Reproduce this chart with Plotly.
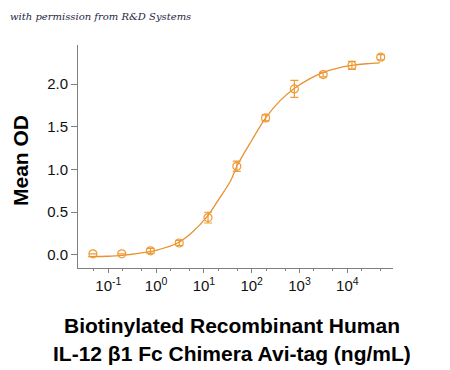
import plotly.graph_objects as go

# Measured points (ng/mL, Mean OD, SD)
conc = [0.0477, 0.191, 0.763, 3.05, 12.2, 48.8, 195, 781, 3125, 12500, 50000]
od = [0.01, 0.01, 0.045, 0.137, 0.435, 1.037, 1.605, 1.945, 2.113, 2.22, 2.317]
sd = [0.0, 0.0, 0.03, 0.03, 0.063, 0.06, 0.035, 0.1, 0.027, 0.047, 0.03]

# Fitted curve (log10 conc, OD)
fit_log = [-1.42, -1.0, -0.76, -0.13, 0.0, 0.46, 0.75, 1.07, 1.3, 1.57, 1.69,
           2.0, 2.3, 2.6, 2.89, 3.2, 3.5, 3.8, 4.09, 4.4, 4.68]
fit_od = [-0.022, -0.018, -0.012, 0.035, 0.05, 0.14, 0.26, 0.45, 0.64, 0.88, 1.04,
          1.34, 1.61, 1.81, 1.95, 2.06, 2.14, 2.19, 2.22, 2.24, 2.25]
fit_conc = [10 ** v for v in fit_log]

tick_vals = [0.1, 1, 10, 100, 1000, 10000]
tick_text = ["10<sup>-1</sup>", "10<sup>0</sup>", "10<sup>1</sup>",
             "10<sup>2</sup>", "10<sup>3</sup>", "10<sup>4</sup>"]
y_ticks = [0.0, 0.5, 1.0, 1.5, 2.0]

line_color = "#E8922E"
mark_color = "#F09A35"
axis_color = "#7f7f7f"
font_fam = "Liberation Sans, Arial, sans-serif"

# page body adds an 8px offset; figure is sized/positioned to compensate
OFF = 8
W, H = 450 - OFF, 370 - OFF
ML, MR, MT, MB = 78 - OFF, 57, 45 - OFF, 102

fig = go.Figure()
fig.add_trace(go.Scatter(
    x=fit_conc, y=fit_od, mode="lines", line=dict(color=line_color, width=1.3, shape="spline"),
    hoverinfo="skip", showlegend=False))
fig.add_trace(go.Scatter(
    x=conc, y=od, mode="markers",
    marker=dict(symbol="circle-open", size=8, color=mark_color, line=dict(width=1.2)),
    error_y=dict(type="data", array=sd, visible=True, color=mark_color, thickness=1.2, width=4),
    showlegend=False))

pw, ph = W - ML - MR, H - MT - MB


def px(x):
    return (x - OFF - ML) / pw


def py(y):
    return (H - MB - (y - OFF)) / ph


fig.update_layout(
    width=W, height=H,
    margin=dict(l=ML, r=MR, t=MT, b=MB),
    paper_bgcolor="white", plot_bgcolor="white",
    font=dict(family=font_fam, color="#000000"),
    xaxis=dict(
        type="log", range=[-1.634, 4.956],
        tickvals=tick_vals, ticktext=tick_text,
        tickfont=dict(size=15, family=font_fam, color="#111"),
        showline=True, linecolor=axis_color, linewidth=1,
        ticks="outside", ticklen=4, tickcolor=axis_color,
        minor=dict(ticks="outside", ticklen=2, tickcolor=axis_color, showgrid=False),
        showgrid=False, zeroline=False,
    ),
    yaxis=dict(
        range=[-0.156, 2.46],
        tickvals=y_ticks, ticktext=["0.0", "0.5", "1.0", "1.5", "2.0"],
        tickfont=dict(size=15, family=font_fam, color="#111"),
        showline=True, linecolor=axis_color, linewidth=1,
        ticks="outside", ticklen=6, tickcolor=axis_color,
        showgrid=False, zeroline=False,
    ),
    annotations=[
        dict(text="with permission from R&amp;D Systems", x=px(8), y=py(16),
             xref="paper", yref="paper",
             showarrow=False, xanchor="left", yanchor="middle",
             font=dict(family="DejaVu Serif, serif", size=10, color="#1d2540", style="italic")),
        dict(text="<b>Mean OD</b>", x=px(20), y=py(160), textangle=-90,
             xref="paper", yref="paper",
             showarrow=False, xanchor="center", yanchor="middle",
             font=dict(family=font_fam, size=21, color="#000")),
        dict(text="<b>Biotinylated Recombinant Human</b>", x=px(232), y=py(325),
             xref="paper", yref="paper",
             showarrow=False, xanchor="center", yanchor="middle",
             font=dict(family=font_fam, size=21, color="#000")),
        dict(text="<b>IL-12 β1 Fc Chimera Avi-tag (ng/mL)</b>", x=px(232), y=py(353),
             xref="paper", yref="paper",
             showarrow=False, xanchor="center", yanchor="middle",
             font=dict(family=font_fam, size=21, color="#000")),
    ],
)

fig.write_html("out.html")
